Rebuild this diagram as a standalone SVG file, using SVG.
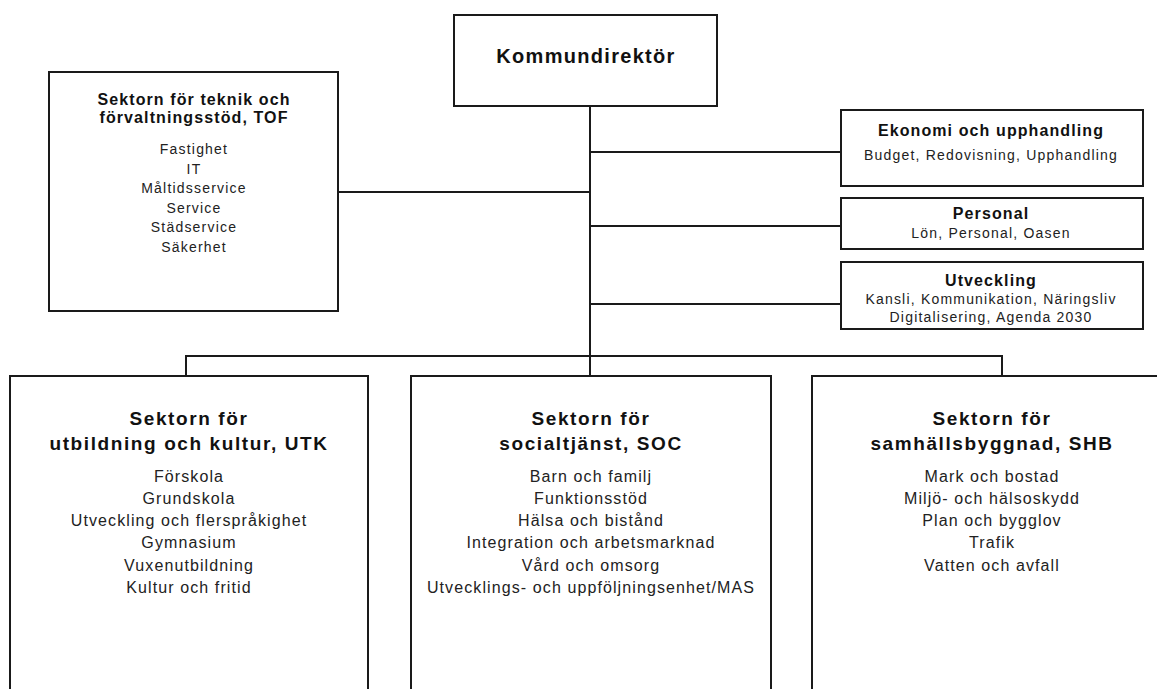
<svg xmlns="http://www.w3.org/2000/svg" width="1157" height="689" viewBox="0 0 1157 689">
<style>
.box{fill:#fff;stroke:#1a1a1a;stroke-width:2}
.con{fill:none;stroke:#1a1a1a;stroke-width:2}
text{font-family:"Liberation Sans",Arial,sans-serif;fill:#111;text-anchor:middle}
.t20{font-size:20px;font-weight:bold;letter-spacing:1.3px}
.t16b{font-size:16px;font-weight:bold;letter-spacing:1.1px}
.t19b{font-size:19px;font-weight:bold;letter-spacing:1.6px}
.r14{font-size:14px;letter-spacing:1.2px;fill:#222}
.r16{font-size:16px;letter-spacing:1.1px;fill:#222}
</style>
<rect width="1157" height="689" fill="#fff"/>
<g id="connectors">
<path class="con" d="M590 106V376"/>
<path class="con" d="M338 192H590"/>
<path class="con" d="M590 152H841M590 226H841M590 304H841"/>
<path class="con" d="M186 376V356H1002V376"/>
</g>
<g id="kommundirektor">
<rect class="box" x="454" y="15" width="263" height="91"/>
<text class="t20" x="586" y="63">Kommundirektör</text>
</g>
<g id="tof">
<rect class="box" x="49" y="72" width="289" height="239"/>
<text class="t16b" x="194" y="105">Sektorn för teknik och</text>
<text class="t16b" x="194" y="123">förvaltningsstöd, TOF</text>
<text class="r14" x="194" y="154">Fastighet</text>
<text class="r14" x="194" y="173.5">IT</text>
<text class="r14" x="194" y="193">Måltidsservice</text>
<text class="r14" x="194" y="212.5">Service</text>
<text class="r14" x="194" y="232">Städservice</text>
<text class="r14" x="194" y="251.5">Säkerhet</text>
</g>
<g id="ekonomi">
<rect class="box" x="841" y="110" width="302" height="76"/>
<text class="t16b" x="991" y="136">Ekonomi och upphandling</text>
<text class="r14" x="991" y="160">Budget, Redovisning, Upphandling</text>
</g>
<g id="personal">
<rect class="box" x="841" y="198" width="302" height="51"/>
<text class="t16b" x="991" y="219">Personal</text>
<text class="r14" x="991" y="238">Lön, Personal, Oasen</text>
</g>
<g id="utveckling">
<rect class="box" x="841" y="262" width="302" height="67"/>
<text class="t16b" x="991" y="286">Utveckling</text>
<text class="r14" x="991" y="304">Kansli, Kommunikation, Näringsliv</text>
<text class="r14" x="991" y="322">Digitalisering, Agenda 2030</text>
</g>
<g id="utk">
<rect class="box" x="10" y="376" width="358" height="330"/>
<text class="t19b" x="189" y="425">Sektorn för</text>
<text class="t19b" x="189" y="450">utbildning och kultur, UTK</text>
<text class="r16" x="189" y="481.5">Förskola</text>
<text class="r16" x="189" y="503.8">Grundskola</text>
<text class="r16" x="189" y="526.1">Utveckling och flerspråkighet</text>
<text class="r16" x="189" y="548.4">Gymnasium</text>
<text class="r16" x="189" y="570.7">Vuxenutbildning</text>
<text class="r16" x="189" y="593">Kultur och fritid</text>
</g>
<g id="soc">
<rect class="box" x="411" y="376" width="360" height="330"/>
<text class="t19b" x="591" y="425">Sektorn för</text>
<text class="t19b" x="591" y="450">socialtjänst, SOC</text>
<text class="r16" x="591" y="481.5">Barn och familj</text>
<text class="r16" x="591" y="503.8">Funktionsstöd</text>
<text class="r16" x="591" y="526.1">Hälsa och bistånd</text>
<text class="r16" x="591" y="548.4">Integration och arbetsmarknad</text>
<text class="r16" x="591" y="570.7">Vård och omsorg</text>
<text class="r16" x="591" y="593">Utvecklings- och uppföljningsenhet/MAS</text>
</g>
<g id="shb">
<rect class="box" x="812" y="376" width="358" height="330"/>
<text class="t19b" x="992" y="425">Sektorn för</text>
<text class="t19b" x="992" y="450">samhällsbyggnad, SHB</text>
<text class="r16" x="992" y="481.5">Mark och bostad</text>
<text class="r16" x="992" y="503.8">Miljö- och hälsoskydd</text>
<text class="r16" x="992" y="526.1">Plan och bygglov</text>
<text class="r16" x="992" y="548.4">Trafik</text>
<text class="r16" x="992" y="570.7">Vatten och avfall</text>
</g>
</svg>
